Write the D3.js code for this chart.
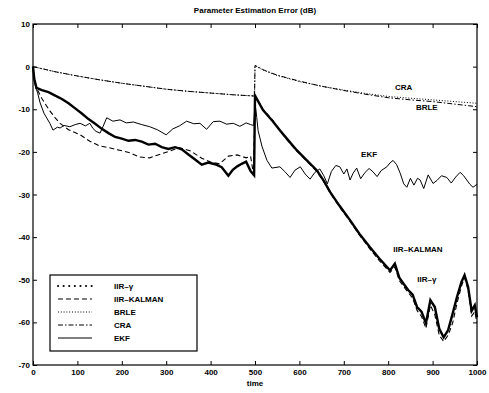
<!DOCTYPE html>
<html>
<head>
<meta charset="utf-8">
<script src="https://cdn.jsdelivr.net/npm/d3@7"></script>
<style>
  body { margin: 0; background: #fff; }
  svg { display: block; font-family: "Liberation Sans", Arial, sans-serif; }
  .axis text { font-size: 8px; font-weight: bold; fill: #000; }
  .axis line { stroke: #000; }
  .lbl { font-size: 8px; font-weight: bold; fill: #000; }
</style>
</head>
<body>
<div id="chart"></div>
<script>
// --- data (time, dB)
const xTicks = [0, 100, 200, 300, 400, 500, 600, 700, 800, 900, 1000];
const yTicks = [-70, -60, -50, -40, -30, -20, -10, 0, 10];

const craT = [0, 25, 50, 100, 150, 200, 250, 300, 350, 400, 450, 499, 500, 520, 550, 600, 650, 700, 750, 800, 850, 900, 950, 1000];
const craV = [0, -0.6, -1.2, -2.2, -3.1, -3.9, -4.6, -5.3, -5.8, -6.2, -6.6, -6.9, 0.3, -0.8, -2.0, -3.4, -4.6, -5.6, -6.5, -7.3, -7.8, -8.2, -8.8, -9.4];

const brleT = [0, 25, 50, 100, 150, 200, 250, 300, 350, 400, 450, 499, 500, 520, 550, 600, 650, 700, 750, 800, 850, 900, 950, 1000];
const brleV = [0, -0.6, -1.2, -2.2, -3.1, -3.9, -4.6, -5.3, -5.8, -6.2, -6.6, -6.9, 0.2, -0.9, -2.1, -3.5, -4.6, -5.5, -6.3, -7.0, -7.4, -7.8, -8.2, -8.6];

const gammaT = [0, 3, 8, 20, 35, 50, 65, 80, 95, 110, 125, 140, 155, 170, 185, 200, 215, 230, 245, 260, 275, 290, 305, 320, 335, 350, 365, 380, 395, 410, 425, 440, 450, 460, 470, 480, 490, 498,
  500, 518, 540, 556, 575, 594, 615, 639, 655, 669, 690, 714, 735, 759, 780, 804, 815, 825, 835, 845, 855, 865, 875, 885, 895, 905, 915, 925, 935, 945, 955, 965, 972, 980, 988, 995, 1000];
const gammaV = [0, -3, -5, -5.5, -6, -6.8, -7.6, -8.6, -9.8, -11, -12.3, -13.4, -14.6, -15.6, -16.5, -16.9, -17.4, -17.2, -17.6, -18.3, -18.1, -18.9, -19.3, -18.9, -19.4, -20.6, -21.8, -23, -22.5, -22.9, -23.6, -25.6, -24.2, -23.4, -22.8, -22.3, -24.5, -25.5,
  -6.8, -10.2, -12.8, -14.9, -17.3, -19.6, -21.8, -24.3, -26.8, -29.4, -32.6, -36, -39.2, -42.4, -45, -47.8, -46.2, -49.5, -51, -52.4, -53.5, -56.4, -57.5, -60.2, -54.8, -56.4, -61.5, -63.5, -61.8, -58, -54, -50.5, -48.9, -51.7, -57.3, -56, -58.8];

const kalmanT = [0, 3, 8, 20, 38, 50, 61, 80, 106, 128, 150, 170, 195, 218, 240, 263, 285, 305, 330, 355, 380, 400, 420, 440, 460, 480, 490, 497,
  500, 518, 540, 556, 575, 594, 615, 639, 655, 669, 690, 714, 735, 759, 780, 804, 815, 825, 835, 845, 855, 865, 875, 885, 895, 905, 915, 925, 935, 945, 955, 965, 972, 980, 988, 995, 1000];
const kalmanV = [0, -3, -5, -7.5, -10.4, -12, -13.3, -14.8, -16, -17.5, -18.6, -19, -19.6, -20.2, -21.2, -21.4, -20.6, -19.9, -19, -19.8, -21.5, -22.4, -22.8, -21, -20.7, -21.4, -21, -25.5,
  -6.8, -10.0, -12.6, -15.1, -17.5, -19.8, -22.0, -24.6, -27.0, -29.6, -32.9, -36.3, -39.5, -42.8, -45.5, -48.3, -47.0, -50.2, -51.6, -53.0, -54.3, -57.2, -58.6, -61.4, -56.0, -58.2, -63.0, -64.5, -63.0, -60.2, -55.5, -51.5, -49.5, -52.5, -58.5, -57.5, -60.0];

const ekfT = [0, 3, 6, 10, 16, 25, 38, 45, 55, 61, 70, 83, 95, 106, 118, 128, 135, 142, 151, 158, 166, 180, 196, 210, 226, 245, 263, 280, 300, 315, 330, 346, 362, 376, 391, 406, 421, 436, 451, 466, 480, 490, 497,
  500, 502, 504, 507, 516, 527, 538, 556, 567, 579, 590, 602, 613, 624, 635, 646, 655, 663, 672, 682, 691, 700, 707, 714, 721, 729, 738, 748, 757, 766, 775, 784, 797, 804, 811, 819, 827, 835, 842, 850, 858, 866, 872, 880, 890, 901, 910, 920, 932, 942, 952, 962, 970, 977, 984, 991, 1000];
const ekfV = [0, -3, -5, -6, -8.5, -11, -13.3, -14.9, -14.2, -14.4, -13.8, -14.1, -13.6, -13.3, -13.9, -13.3, -14.5, -15.2, -15.6, -14, -12, -12.8, -12.5, -13.2, -13, -13.6, -14.1, -14.8, -16, -14.6, -13.9, -12.8, -13.4, -13.3, -14.7, -12.9, -12.8, -13.5, -13.3, -14, -13.2, -13.6, -13.8,
  -9, -10, -12, -15, -18.8, -22, -23.8, -23.5, -24.6, -26, -24.3, -23.5, -25.2, -26.4, -24.8, -24, -25.6, -27.5, -24.6, -23.2, -23.5, -25.2, -24, -26.6, -25, -23.8, -26.3, -24.8, -23.9, -24.7, -25.8, -24.4, -23.5, -22.6, -22, -23, -25, -27.5, -28.3, -26.2, -27.8, -26.2, -26.6, -28.6, -25.4, -27.4, -26.7, -25.6, -26, -27.3, -25.9, -24.8, -25.6, -26.6, -27.6, -28.3, -27.6];

const seriesNames = ['IIR\u2013\u03b3', 'IIR\u2013KALMAN', 'BRLE', 'CRA', 'EKF'];

// --- layout
const width = 489, height = 393;
const margin = { top: 24, right: 12, bottom: 28, left: 33 };
const w = width - margin.left - margin.right;
const h = height - margin.top - margin.bottom;

const svg = d3.select('#chart').append('svg')
    .attr('width', width).attr('height', height);

const x = d3.scaleLinear().domain([0, 1000]).range([0, w]);
const y = d3.scaleLinear().domain([-70, 10]).range([h, 0]);

const g = svg.append('g').attr('transform', `translate(${margin.left},${margin.top})`);

// axes, matlab style ticks pointing inward
g.append('g').attr('class', 'axis').attr('transform', `translate(0,${h})`)
    .call(d3.axisBottom(x).tickValues(xTicks).tickSizeInner(-4).tickSizeOuter(0).tickPadding(4).tickFormat(d3.format('d')))
    .call(a => a.select('.domain').remove());
g.append('g').attr('class', 'axis')
    .call(d3.axisTop(x).tickValues(xTicks).tickSizeInner(-4).tickSizeOuter(0).tickFormat(''))
    .call(a => a.select('.domain').remove());
g.append('g').attr('class', 'axis')
    .call(d3.axisLeft(y).tickValues(yTicks).tickSizeInner(-4).tickSizeOuter(0).tickPadding(3).tickFormat(d => String(d)))
    .call(a => a.select('.domain').remove());
g.append('g').attr('class', 'axis').attr('transform', `translate(${w},0)`)
    .call(d3.axisRight(y).tickValues(yTicks).tickSizeInner(-4).tickSizeOuter(0).tickFormat(''))
    .call(a => a.select('.domain').remove());

g.append('rect').attr('width', w).attr('height', h)
    .attr('fill', 'none').attr('stroke', '#000').attr('stroke-width', 1.2);

// curves
const line = d3.line().x(d => x(d[0])).y(d => y(d[1]));
const zip = (t, v) => t.map((d, i) => [d, v[i]]);

const styles = [
    { data: zip(craT, craV), dash: '5,2,1.5,2', sw: 1 },
    { data: zip(brleT, brleV), dash: '1,1.8', sw: 1 },
    { data: zip(ekfT, ekfV), dash: null, sw: 1 },
    { data: zip(gammaT, gammaV), dash: null, sw: 2.4 },
    { data: zip(kalmanT, kalmanV), dash: '5,3', sw: 1.1 }
];
styles.forEach(s => {
    g.append('path').datum(s.data)
        .attr('fill', 'none').attr('stroke', '#000')
        .attr('stroke-width', s.sw)
        .attr('stroke-dasharray', s.dash)
        .attr('d', line);
});

// in-plot labels
const labels = [
    { text: 'CRA', t: 835, v: -4.8 },
    { text: 'BRLE', t: 887, v: -9.5 },
    { text: 'EKF', t: 757, v: -20.5 },
    { text: 'IIR\u2013KALMAN', t: 867, v: -42.8 },
    { text: 'IIR\u2013\u03b3', t: 887, v: -49.8 }
];
g.selectAll('.lbl').data(labels).enter().append('text')
    .attr('class', 'lbl')
    .attr('x', d => x(d.t)).attr('y', d => y(d.v))
    .attr('text-anchor', 'middle').attr('dy', '0.35em')
    .text(d => d.text);

// title and x label
svg.append('text').attr('class', 'lbl')
    .attr('x', margin.left + w / 2).attr('y', 13).attr('text-anchor', 'middle')
    .text('Parameter Estimation Error (dB)');
svg.append('text').attr('class', 'lbl')
    .attr('x', margin.left + w / 2).attr('y', 386).attr('text-anchor', 'middle')
    .text('time');

// legend
const lg = svg.append('g').attr('transform', 'translate(50,275)');
lg.append('rect').attr('width', 147).attr('height', 76)
    .attr('fill', '#fff').attr('stroke', '#000').attr('stroke-width', 1.2);
const legDash = ['0.1,5.5', '5,3', '1,1.8', '5,2,1.5,2', null];
const legSw = [2, 1.1, 1, 1, 1];
seriesNames.forEach((name, i) => {
    const yy = 11 + i * 13;
    lg.append('line').attr('x1', 8).attr('x2', 42).attr('y1', yy).attr('y2', yy)
        .attr('stroke', '#000').attr('stroke-width', legSw[i])
        .attr('stroke-linecap', i === 0 ? 'round' : 'butt')
        .attr('stroke-dasharray', legDash[i]);
    lg.append('text').attr('class', 'lbl').attr('x', 64).attr('y', yy).attr('dy', '0.35em').text(name);
});
</script>
</body>
</html>
